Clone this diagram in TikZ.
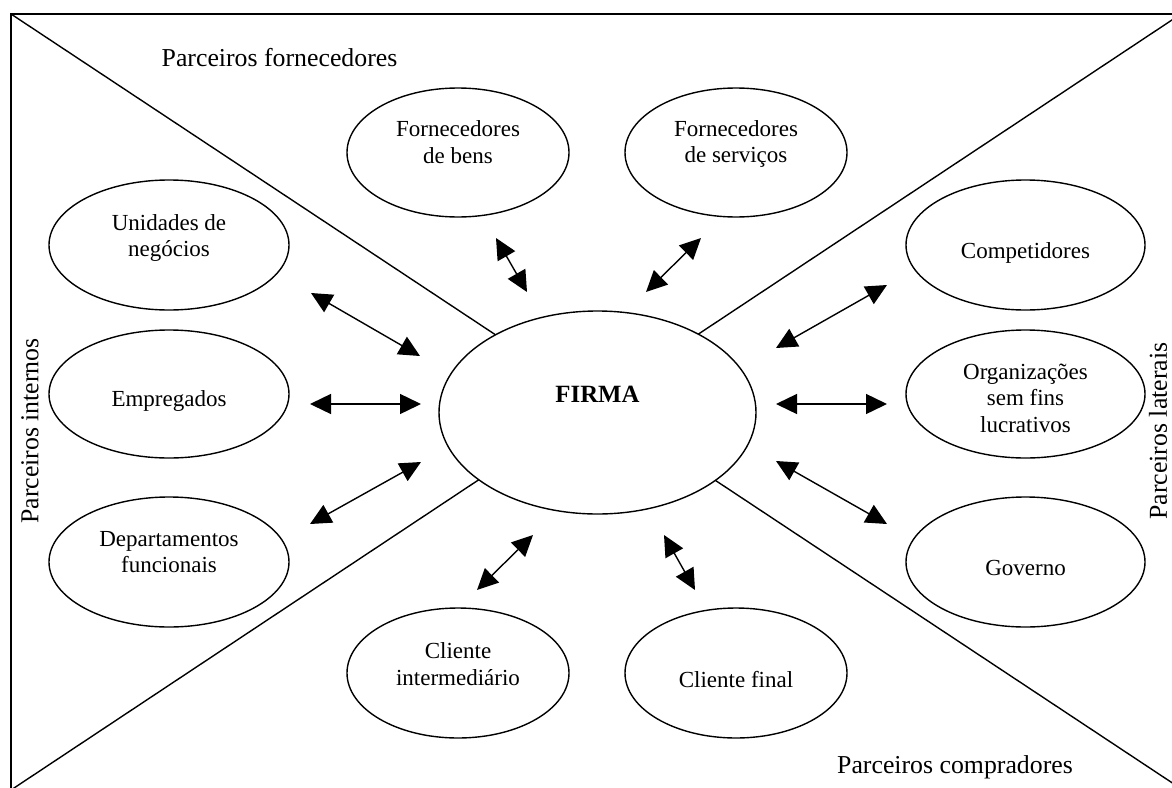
\documentclass[tikz,border=0pt]{standalone}
\usepackage{fontspec}
\setmainfont{Liberation Serif}
\usetikzlibrary{shapes.geometric,arrows.meta}

\tikzset{
  line/.style={line width=1.4pt, black},
  oval/.style={ellipse, draw, line width=1.4pt, fill=white, inner sep=0pt, outer sep=0pt},
  smalloval/.style={oval, minimum width=222pt, minimum height=130pt},
  sideoval/.style={oval, minimum width=240pt, minimum height=130pt},
  txt/.style={font=\fontsize{23}{26.5}\selectfont, align=center, inner sep=0pt},
  area/.style={font=\fontsize{25.8}{30}\selectfont, inner sep=0pt},
  biarrow/.style={line width=1.4pt, {Triangle[length=21pt,width=20pt]}-{Triangle[length=21pt,width=20pt]}}
}

\begin{document}
\begin{tikzpicture}[x=1pt, y=-1pt]
  \useasboundingbox (0,0) rectangle (1172,787);
  \clip (0,0) rectangle (1172,787);

  % outer frame (open towards the right and bottom)
  \draw[line] (11,800) -- (11,14) -- (1190,14);

  % the two diagonals dividing the partner groups
  \draw[line] (11,14) -- (1183,790);
  \draw[line] (1181,14) -- (11,790);

  % central firm
  \node[oval, minimum width=317pt, minimum height=203pt] (firma) at (597.5,412.5) {};
  \node[font=\fontsize{24.8}{28}\selectfont\bfseries, inner sep=0pt, anchor=base] (firma-t) at (597.5,402) {FIRMA};

  % internal partners
  \node[sideoval] (unid) at (169,245) {};
  \node[txt] (unid-t) at (169,238) {Unidades de\\negócios};
  \node[sideoval, minimum height=128pt] (emp) at (169,394) {};
  \node[txt, anchor=base] (emp-t) at (169,406) {Empregados};
  \node[sideoval] (dept) at (169,562) {};
  \node[txt] (dept-t) at (169,552) {Departamentos\\funcionais};

  % supplier partners
  \node[smalloval, minimum height=129pt] (fbens) at (458,152.5) {};
  \node[txt] (fbens-t) at (458,142) {Fornecedores\\de bens};
  \node[smalloval, minimum height=129pt] (fserv) at (736,152.5) {};
  \node[txt] (fserv-t) at (736,144) {Fornecedores\\de serviços};

  % lateral partners
  \node[sideoval, minimum width=239pt] (comp) at (1025.5,245) {};
  \node[txt, anchor=base] (comp-t) at (1025.5,258) {Competidores};
  \node[sideoval, minimum width=239pt, minimum height=128pt] (org) at (1025.5,394) {};
  \node[txt] (org-t) at (1025.5,398) {Organizações\\sem fins\\lucrativos};
  \node[sideoval, minimum width=239pt] (gov) at (1025.5,562) {};
  \node[txt, anchor=base] (gov-t) at (1025.5,575) {Governo};

  % buyer partners
  \node[smalloval] (cint) at (458,673) {};
  \node[txt] (cint-t) at (458,664) {Cliente\\intermediário};
  \node[smalloval] (cfin) at (736,673) {};
  \node[txt, anchor=base] (cfin-t) at (736,687) {Cliente final};

  % group captions
  \node[area, anchor=base] (cap-forn) at (279.5,66) {Parceiros fornecedores};
  \node[area, anchor=base] (cap-comp) at (955,773) {Parceiros compradores};
  \node[area, rotate=90] (cap-int) at (30,431) {Parceiros internos};
  \node[area, rotate=90] (cap-lat) at (1158,431) {Parceiros laterais};

  % arrow ends
  \coordinate (unid-a)  at (311,293);  \coordinate (firma-a1) at (420,356);
  \coordinate (emp-a)   at (310,404);  \coordinate (firma-a2) at (421,404);
  \coordinate (dept-a)  at (310,524);  \coordinate (firma-a3) at (421,462);
  \coordinate (fbens-a) at (496,238);  \coordinate (firma-a4) at (527,292);
  \coordinate (fserv-a) at (701,238);  \coordinate (firma-a5) at (646,292);
  \coordinate (comp-a)  at (887,285);  \coordinate (firma-a6) at (776,348);
  \coordinate (org-a)   at (887,404);  \coordinate (firma-a7) at (776,404);
  \coordinate (gov-a)   at (887,524);  \coordinate (firma-a8) at (776,461);
  \coordinate (cint-a)  at (477,590);  \coordinate (firma-a9) at (533,535);
  \coordinate (cfin-a)  at (695,590);  \coordinate (firma-a10) at (664,535);

  % two-way relations with the firm
  \draw[biarrow] (unid-a)  -- (firma-a1);
  \draw[biarrow] (emp-a)   -- (firma-a2);
  \draw[biarrow] (dept-a)  -- (firma-a3);
  \draw[biarrow] (fbens-a) -- (firma-a4);
  \draw[biarrow] (fserv-a) -- (firma-a5);
  \draw[biarrow] (comp-a)  -- (firma-a6);
  \draw[biarrow] (org-a)   -- (firma-a7);
  \draw[biarrow] (gov-a)   -- (firma-a8);
  \draw[biarrow] (cint-a)  -- (firma-a9);
  \draw[biarrow] (cfin-a)  -- (firma-a10);
\end{tikzpicture}
\end{document}
